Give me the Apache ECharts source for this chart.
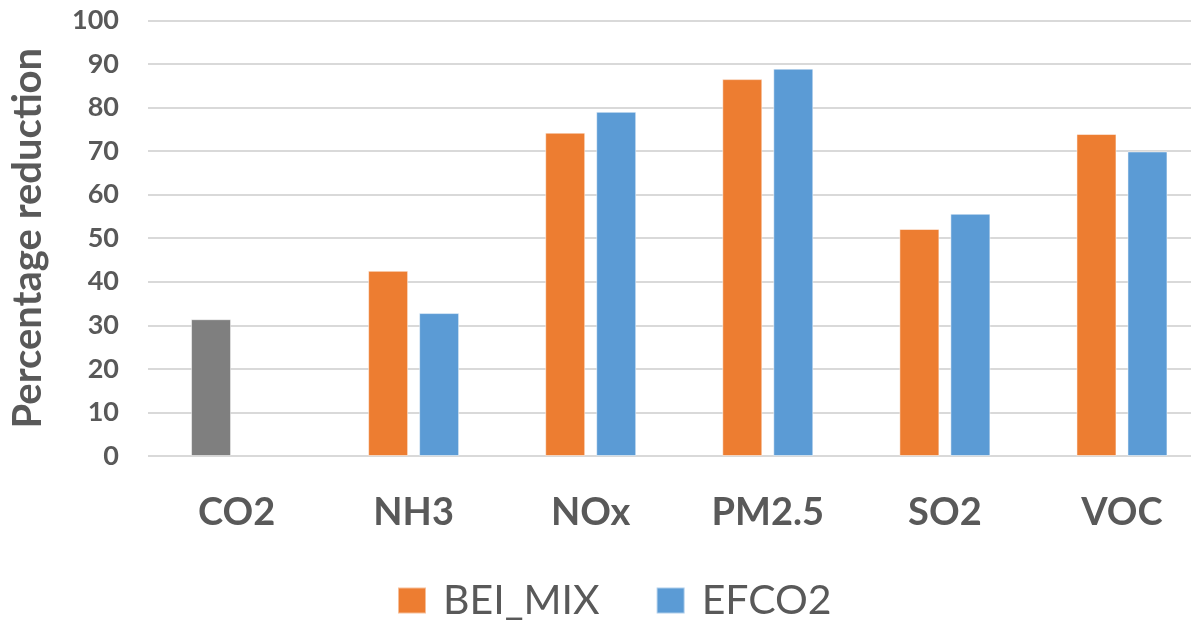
<!DOCTYPE html>
<html>
<head>
<meta charset="utf-8">
<style>
  html, body { margin: 0; padding: 0; background: #ffffff; overflow: hidden; }
  /* the plot runs slightly past the right edge of the window */
  #chart { width: 1211px; height: 622px; }
</style>
<script src="https://cdn.jsdelivr.net/npm/echarts@6/dist/echarts.min.js"></script>
</head>
<body>
<div id="chart"></div>
<script>
// Pollutant categories and percentage reductions per scenario
const categories = ['CO2', 'NH3', 'NOx', 'PM2.5', 'SO2', 'VOC'];
const beiMix = [31.4, 42.5, 74.2, 86.5, 52.1, 73.9];
const efco2 = [null, 32.8, 79.0, 88.9, 55.6, 69.9];
const yTicks = [0, 10, 20, 30, 40, 50, 60, 70, 80, 90, 100];

const ORANGE = '#ED7D31';
const BLUE = '#5B9BD5';
const GREY = '#7F7F7F';
const TEXT = '#595959';
const FONT = 'Lato, "Open Sans", sans-serif';

const chart = echarts.init(document.getElementById('chart'), null, { renderer: 'canvas' });

// CO2 has only a single total value, drawn in grey in the first slot
const beiMixData = beiMix.map((v, i) =>
  categories[i] === 'CO2' ? { value: v, itemStyle: { color: GREY } } : v
);

chart.setOption({
  animation: false,
  backgroundColor: '#ffffff',
  grid: { left: 142.5, top: 20.3, width: 1068, height: 435.7, containLabel: false },
  legend: {
    data: ['BEI_MIX', 'EFCO2'],
    left: 397,
    top: 580,
    padding: 0,
    icon: 'rect',
    itemWidth: 28,
    itemHeight: 26,
    itemGap: 56,
    textStyle: { color: TEXT, fontSize: 41, fontFamily: FONT, padding: [0, 0, 0, 12] }
  },
  xAxis: {
    type: 'category',
    data: categories,
    axisLine: { show: false },
    axisTick: { show: false },
    axisLabel: { color: TEXT, fontSize: 38, fontWeight: 'bold', fontFamily: FONT, margin: 38 }
  },
  yAxis: {
    type: 'value',
    min: yTicks[0],
    max: yTicks[yTicks.length - 1],
    interval: 10,
    name: 'Percentage reduction',
    nameLocation: 'middle',
    nameGap: 100,
    nameTextStyle: { color: TEXT, fontSize: 40, fontWeight: 'bold', fontFamily: FONT },
    axisLine: { show: false },
    axisTick: { show: false },
    axisLabel: { color: TEXT, fontSize: 27, fontWeight: 'bold', fontFamily: FONT, margin: 29 },
    splitLine: { lineStyle: { color: '#d9d9d9', width: 2 } }
  },
  series: [
    {
      name: 'BEI_MIX',
      type: 'bar',
      data: beiMixData,
      barWidth: 40,
      barGap: '27.5%',
      itemStyle: { color: ORANGE, borderColor: 'rgba(255,255,255,0.5)', borderWidth: 1 }
    },
    {
      name: 'EFCO2',
      type: 'bar',
      data: efco2,
      barWidth: 40,
      itemStyle: { color: BLUE, borderColor: 'rgba(255,255,255,0.5)', borderWidth: 1 }
    }
  ]
});
</script>
</body>
</html>
